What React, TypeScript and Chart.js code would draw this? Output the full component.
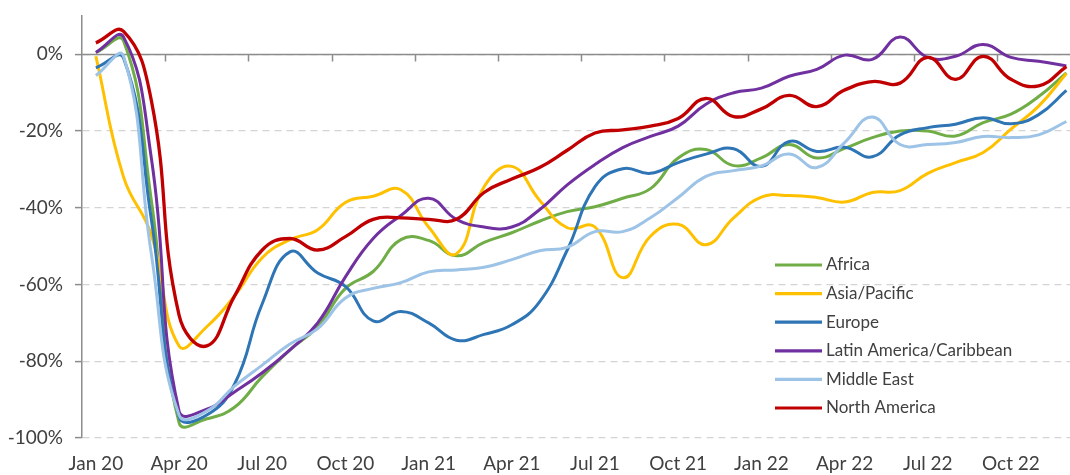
import React, { useEffect, useRef } from 'react';
import { Chart, registerables } from 'chart.js';

Chart.register(...registerables);

const months = [
  'Jan 20', 'Feb 20', 'Mar 20', 'Apr 20', 'May 20', 'Jun 20', 'Jul 20', 'Aug 20', 'Sep 20', 'Oct 20', 'Nov 20', 'Dec 20',
  'Jan 21', 'Feb 21', 'Mar 21', 'Apr 21', 'May 21', 'Jun 21', 'Jul 21', 'Aug 21', 'Sep 21', 'Oct 21', 'Nov 21', 'Dec 21',
  'Jan 22', 'Feb 22', 'Mar 22', 'Apr 22', 'May 22', 'Jun 22', 'Jul 22', 'Aug 22', 'Sep 22', 'Oct 22', 'Nov 22', 'Dec 22',
];
const tickMonths = ['Jan 20', 'Apr 20', 'Jul 20', 'Oct 20', 'Jan 21', 'Apr 21', 'Jul 21', 'Oct 21', 'Jan 22', 'Apr 22', 'Jul 22', 'Oct 22'];
const yTicks = [-100, -80, -60, -40, -20, 0];

const seriesNames = ['Africa', 'Asia/Pacific', 'Europe', 'Latin America/Caribbean', 'Middle East', 'North America'];
const seriesColors = ['#70AD47', '#FFC000', '#2E75B6', '#7030A0', '#9DC3E6', '#C00000'];

const africa = [0.5, 3.5, -38, -96, -95, -92, -84, -77, -71, -61, -56.6, -48.3, -48.5, -52.5, -49, -46.5, -43.5, -41, -39.7, -37.5, -35, -27, -24.8, -29, -27, -23.5, -27, -24.5, -21.7, -20, -20, -21.3, -17.8, -15.6, -11, -4.8];
const asiaPacific = [-0.5, -32, -47, -76, -71, -63, -53, -48.3, -45.7, -38.6, -37, -35.3, -45, -52, -34.5, -29.2, -38, -45.2, -45, -58.2, -47.4, -44.3, -49.6, -42.6, -37.2, -36.8, -37.3, -38.5, -36, -35.5, -31, -28.2, -25.6, -19.5, -13.5, -5];
const europe = [-3.5, -1, -43, -94.5, -94, -86, -65, -51.5, -57, -60.5, -69.5, -67, -70, -74.5, -73, -70.5, -64.5, -51, -34.5, -29.8, -31, -28.2, -26, -24.6, -29.2, -22.7, -25.3, -24.2, -26.7, -21, -19.1, -18.2, -16.5, -18.1, -15.7, -9.4];
const latinAmerica = [0.5, 4.5, -27, -93, -92.5, -88, -83, -77, -70, -58, -48, -42, -37.5, -43, -45, -45, -40.5, -34, -28.7, -24.3, -21.4, -18.7, -13, -10, -8.8, -5.7, -3.9, -0.2, -1.3, 4.5, -0.8, -0.5, 2.6, -0.8, -1.8, -3];
const middleEast = [-5.5, -0.5, -52, -94, -93, -86.5, -81, -75.5, -71.5, -63.5, -61, -59.5, -56.7, -56.2, -55.5, -53.5, -51.2, -50.3, -46.2, -46.2, -42.6, -37.3, -31.8, -30.3, -29.1, -26, -29.5, -23, -16.3, -23.5, -23.5, -23, -21.4, -21.7, -21, -17.5];
const northAmerica = [3, 6, -12, -68, -76, -63, -51, -48, -51, -47.5, -43, -42.6, -43, -43, -36, -32.5, -29.5, -25, -20.5, -19.7, -18.7, -16.7, -11.5, -16.2, -14.2, -10.7, -13.6, -9.3, -7.1, -7.5, -0.8, -6.5, -0.5, -6.5, -8.2, -3.2];

const seriesValues = [africa, asiaPacific, europe, latinAmerica, middleEast, northAmerica];

const FONT = 'Lato, "Open Sans", sans-serif';
const TEXT = '#404040';
const AXIS = '#8c8c8c';

const overlay = {
  id: 'overlay',
  beforeDatasetsDraw(chart: any) {
    const { ctx, chartArea, scales } = chart;
    const y0 = Math.round(scales.y.getPixelForValue(0)) + 0.5;
    ctx.save();
    ctx.strokeStyle = AXIS;
    ctx.lineWidth = 1.5;
    ctx.setLineDash([]);
    ctx.beginPath();
    ctx.moveTo(chartArea.left, y0);
    ctx.lineTo(chartArea.right, y0);
    for (let i = 1; i < 12; i++) {
      const x = Math.round(scales.x.getPixelForValue(i * 3 - 0.5)) + 0.5;
      ctx.moveTo(x, y0);
      ctx.lineTo(x, y0 + 7);
    }
    ctx.stroke();
    ctx.restore();
  },
  afterDraw(chart: any) {
    const { ctx } = chart;
    ctx.save();
    ctx.font = `17px ${FONT}`;
    ctx.textBaseline = 'middle';
    ctx.textAlign = 'left';
    chart.data.datasets.forEach((ds: any, i: number) => {
      const y = 265 + i * 28.6;
      ctx.strokeStyle = ds.borderColor;
      ctx.lineWidth = 3.2;
      ctx.beginPath();
      ctx.moveTo(775, y);
      ctx.lineTo(822, y);
      ctx.stroke();
      ctx.fillStyle = TEXT;
      ctx.fillText(ds.label, 826, y);
    });
    ctx.restore();
  },
};

export default function App() {
  const ref = useRef<HTMLCanvasElement>(null);
  useEffect(() => {
    const canvas = ref.current;
    if (!canvas) return;
    const chart = new Chart(canvas, {
      type: 'line',
      data: {
        datasets: seriesNames.map((name, i) => ({
          label: name,
          data: seriesValues[i].map((v, j) => ({ x: j, y: v })),
          borderColor: seriesColors[i],
          backgroundColor: seriesColors[i],
          borderWidth: i === 5 ? 3.3 : 3,
          pointRadius: 0,
          tension: 0.45,
          fill: false,
          order: seriesNames.length - i,
        })),
      },
      options: {
        responsive: false,
        maintainAspectRatio: false,
        animation: false,
        layout: { padding: { top: 16, left: 0, right: 0, bottom: 0 } },
        plugins: { legend: { display: false }, tooltip: { enabled: false } },
        scales: {
          x: {
            type: 'linear',
            min: -0.5,
            max: 35.13,
            grid: { display: false, drawTicks: false },
            border: { display: false },
            afterBuildTicks: (s: any) => {
              s.ticks = tickMonths.map((m) => ({ value: months.indexOf(m) }));
            },
            afterFit: (s: any) => {
              s.height = 37;
              s.paddingLeft = 0;
              s.paddingRight = 0;
            },
            ticks: {
              autoSkip: false,
              maxRotation: 0,
              padding: 14,
              color: TEXT,
              font: { family: FONT, size: 19 },
              callback: (v: any) => months[v as number],
            },
          },
          y: {
            min: -100,
            max: 10,
            afterBuildTicks: (s: any) => {
              s.ticks = yTicks.map((v) => ({ value: v }));
            },
            afterFit: (s: any) => {
              s.width = 82;
              s.paddingTop = 0;
              s.paddingBottom = 0;
            },
            ticks: {
              padding: 12,
              color: TEXT,
              font: { family: FONT, size: 19 },
              callback: (v: any) => `${v}%`,
            },
            grid: {
              color: '#d4d4d4',
              lineWidth: 1.2,
              drawTicks: true,
              tickLength: 7,
              tickColor: AXIS,
              tickWidth: 1.5,
              tickBorderDash: [],
            },
            border: { display: true, color: AXIS, width: 1.5, dash: [7, 5] },
          },
        },
      },
      plugins: [overlay],
    } as any);
    return () => chart.destroy();
  }, []);
  return (
    <div style={{ position: 'fixed', left: 0, top: 0, width: 1070, height: 475, background: '#fff' }}>
      <canvas ref={ref} width={1070} height={475} style={{ width: 1070, height: 475, display: 'block' }} />
    </div>
  );
}
